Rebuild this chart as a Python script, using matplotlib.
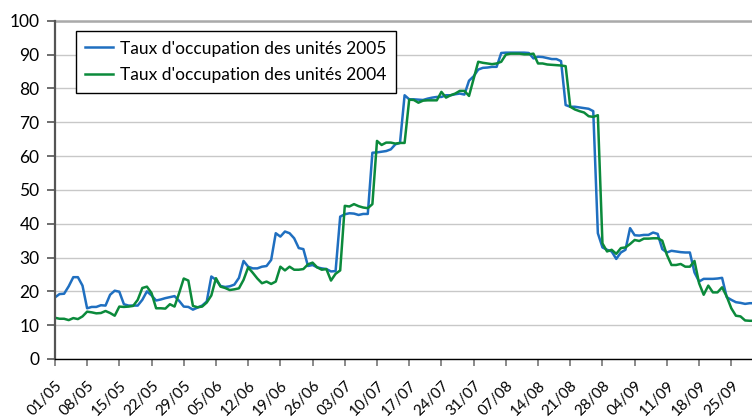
import matplotlib
matplotlib.use("Agg")
import matplotlib.pyplot as plt
import numpy as np

# daily occupancy rate, 01/05 -> 30/09
taux_2005 = [
    18.2, 19.2, 19.3, 21.5, 24.2, 24.2, 21.7, 15.0, 15.4, 15.4,
    15.9, 15.8, 19.0, 20.2, 19.9, 16.2, 15.8, 15.8, 15.8, 17.5,
    20.0, 18.8, 17.3, 17.6, 18.0, 18.3, 18.6, 17.2, 15.5, 15.4,
    14.6, 15.2, 15.8, 17.0, 24.4, 23.4, 21.6, 21.3, 21.5, 22.0,
    24.0, 29.0, 27.3, 26.8, 26.8, 27.3, 27.5, 29.3, 37.2, 36.2,
    37.7, 37.2, 35.7, 32.8, 32.5, 27.5, 27.8, 27.1, 26.8, 26.6,
    25.9, 26.0, 42.1, 42.8, 43.1, 43.0, 42.6, 42.9, 42.9, 61.0,
    61.1, 61.3, 61.5, 62.0, 63.5, 63.9, 78.0, 76.8, 76.8, 76.7,
    76.6, 77.0, 77.3, 77.5, 77.5, 78.0, 78.0, 78.3, 78.5, 78.2,
    82.3, 83.6, 85.6, 86.1, 86.2, 86.4, 86.4, 90.5, 90.6, 90.6,
    90.6, 90.6, 90.6, 90.5, 88.9, 89.4, 89.3, 89.0, 88.7, 88.7,
    88.1, 75.1, 74.6, 74.6, 74.4, 74.2, 74.0, 73.3, 37.2, 33.0,
    32.3, 31.8, 29.6, 31.5, 32.3, 38.7, 36.6, 36.5, 36.7, 36.7,
    37.4, 37.0, 32.5, 31.5, 32.0, 31.8, 31.6, 31.5, 31.5, 25.6,
    22.9, 23.7, 23.7, 23.7, 23.8, 24.0, 18.3, 17.5, 16.8, 16.6,
    16.3, 16.5, 16.5,
]
taux_2004 = [
    12.2, 11.9, 11.9, 11.5, 12.1, 11.8, 12.6, 14.0, 13.8, 13.5,
    13.6, 14.2, 13.6, 12.8, 15.5, 15.4, 15.5, 15.7, 17.5, 21.0,
    21.4, 19.5, 15.0, 15.0, 14.9, 16.2, 15.5, 19.5, 23.8, 23.2,
    15.7, 15.3, 15.5, 16.7, 18.8, 23.9, 21.4, 21.0, 20.4, 20.6,
    20.9, 23.4, 27.1, 25.5, 23.8, 22.4, 22.9, 22.2, 22.9, 27.3,
    26.2, 27.3, 26.4, 26.4, 26.6, 28.0, 28.5, 27.1, 26.4, 26.6,
    23.2, 25.2, 26.2, 45.3, 45.1, 45.8, 45.2, 44.8, 44.6, 45.8,
    64.5, 63.3, 64.0, 64.0, 63.7, 63.9, 63.9, 76.7, 76.6, 75.8,
    76.4, 76.5, 76.5, 76.5, 79.0, 77.3, 78.0, 78.5, 79.3, 79.3,
    77.8, 82.8, 87.9, 87.6, 87.4, 87.2, 87.4, 87.9, 90.0, 90.3,
    90.3, 90.3, 90.1, 90.1, 90.3, 87.4, 87.4, 87.1, 87.0, 86.9,
    86.8, 86.6, 74.6, 73.8, 73.3, 72.9, 71.8, 71.6, 72.1, 34.2,
    31.8, 32.3, 31.1, 32.8, 33.0, 34.0, 35.2, 34.9, 35.6, 35.6,
    35.7, 35.7, 35.0, 30.8, 27.8, 27.8, 28.1, 27.3, 27.3, 29.0,
    22.4, 19.0, 21.7, 19.7, 19.7, 21.2, 18.5, 15.0, 12.8, 12.6,
    11.4, 11.3, 11.3,
]
tick_labels = ["01/05", "08/05", "15/05", "22/05", "29/05", "05/06", "12/06",
               "19/06", "26/06", "03/07", "10/07", "17/07", "24/07", "31/07",
               "07/08", "14/08", "21/08", "28/08", "04/09", "11/09", "18/09",
               "25/09"]

plt.rcParams['font.family'] = ['Lato', 'DejaVu Sans']

fig = plt.figure(figsize=(7.52, 4.19), dpi=100)
ax = fig.add_axes([0.073, 0.1432, 0.927, 0.807])

days = np.arange(len(taux_2005))
ax.plot(days, taux_2005, color='#1f6fc0', lw=1.8, label="Taux d'occupation des unités 2005")
ax.plot(days, taux_2004, color='#0b8a3b', lw=1.8, label="Taux d'occupation des unités 2004")

ax.set_ylim(0, 100)
ax.set_xlim(0, 151.5)
ax.set_yticks(range(0, 101, 10))
ax.set_xticks(np.arange(len(tick_labels)) * 7)
ax.set_xticklabels(tick_labels, rotation=45, ha='right', rotation_mode='anchor', fontsize=11)
ax.tick_params(axis='y', labelsize=12.5, length=6, width=1.2, color='#555555', pad=5)
ax.tick_params(axis='x', length=5, width=1.2, color='#777777', pad=9)

ax.grid(axis='y', color='#c8c8c8', lw=1)
ax.set_axisbelow(True)
for s in ['top', 'right']:
    ax.spines[s].set_visible(False)
ax.spines['left'].set_color('#555555')
ax.spines['left'].set_linewidth(1.6)
ax.spines['bottom'].set_color('black')
ax.spines['bottom'].set_linewidth(1.0)
ax.axhline(100, color='#aaaaaa', lw=1.8, clip_on=False)

leg = ax.legend(loc='upper left', bbox_to_anchor=(0.030, 0.970), borderaxespad=0,
                fancybox=False, edgecolor='black', fontsize=12.5, handlelength=1.6,
                handletextpad=0.4, borderpad=0.55, labelspacing=0.6, framealpha=1)
leg.get_frame().set_linewidth(1.0)

fig.savefig('out.png', dpi=100)
